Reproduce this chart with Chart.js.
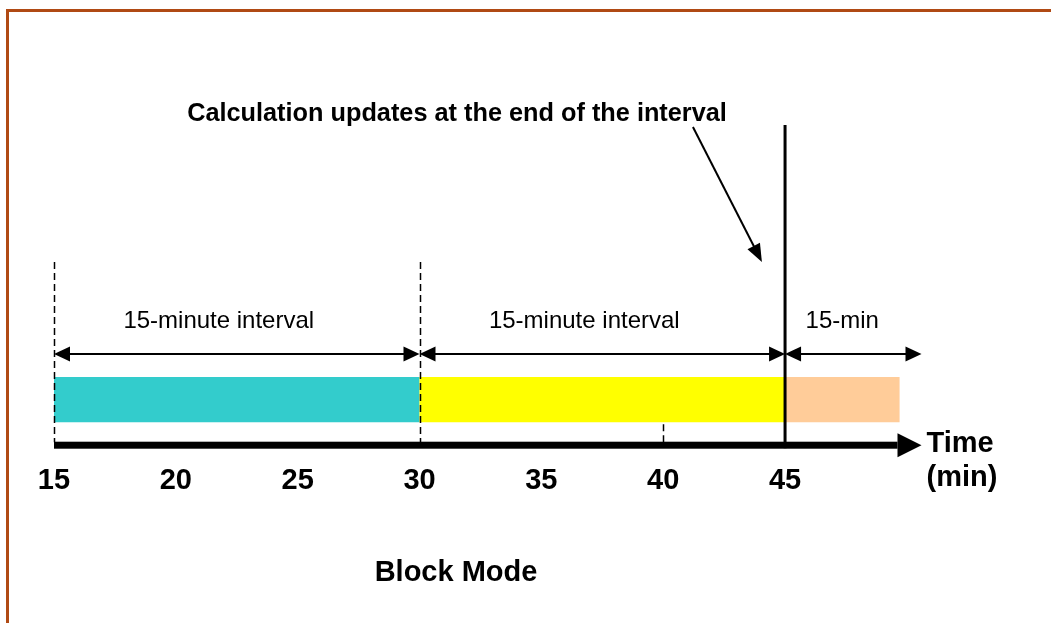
<!DOCTYPE html>
<html>
<head>
<meta charset="utf-8">
<script src="https://cdn.jsdelivr.net/npm/chart.js@4.4.1/dist/chart.umd.min.js"></script>
<style>
html, body { margin: 0; padding: 0; background: #fff; overflow: hidden; }
#wrap { position: relative; width: 1051px; height: 623px; }
#frame {
  position: absolute; left: 6px; top: 9px; width: 1100px; height: 700px;
  border-top: 3px solid #b04a14; border-left: 3px solid #b04a14;
  box-sizing: border-box; pointer-events: none;
}
</style>
</head>
<body>
<div id="wrap">
  <canvas id="blockChart" width="1051" height="623"></canvas>
  <div id="frame"></div>
</div>
<script>
// Block mode timeline, values in minutes
const intervalStarts = [15, 30, 45];
const intervalEnds = [30, 45, 49.7];
const intervalColors = ['#33cccc', '#ffff00', '#ffcc99'];
const intervalLabels = ['15-minute interval', '15-minute interval', '15-min'];
const spanArrowEnds = [30, 45, 50.6];
const tickValues = [15, 20, 25, 30, 35, 40, 45];
const boundaryMarks = [15, 30];
const minorMark = 40;
const updateMark = 45;

const FONT = '"Liberation Sans", Arial, sans-serif';

// little helper for filled arrow heads
function arrowHead(ctx, tipX, tipY, angle, len, half) {
  ctx.save();
  ctx.translate(tipX, tipY);
  ctx.rotate(angle);
  ctx.beginPath();
  ctx.moveTo(0, 0);
  ctx.lineTo(-len, -half);
  ctx.lineTo(-len, half);
  ctx.closePath();
  ctx.fill();
  ctx.restore();
}

const timelinePlugin = {
  id: 'timeline',
  afterDatasetsDraw(chart) {
    const { ctx, chartArea, scales: { x } } = chart;
    const bar = chart.getDatasetMeta(0).data[0];
    const barBottom = bar.y + bar.height / 2;
    const axisY = chartArea.bottom;
    const spanY = chartArea.top;
    const axisTip = x.getPixelForValue(50.6);

    ctx.save();
    ctx.strokeStyle = '#000';
    ctx.fillStyle = '#000';

    // dashed boundary lines
    ctx.lineWidth = 1.5;
    ctx.setLineDash([7, 4]);
    boundaryMarks.forEach(v => {
      const px = Math.round(x.getPixelForValue(v)) + 0.5;
      ctx.beginPath();
      ctx.moveTo(px, 262);
      ctx.lineTo(px, axisY - 3);
      ctx.stroke();
    });
    const mx = Math.round(x.getPixelForValue(minorMark)) + 0.5;
    ctx.beginPath();
    ctx.moveTo(mx, barBottom + 2);
    ctx.lineTo(mx, axisY - 3);
    ctx.stroke();
    ctx.setLineDash([]);

    // time axis with arrow
    const x0 = x.getPixelForValue(tickValues[0]);
    ctx.fillRect(x0, axisY - 3.5, axisTip - 24 - x0, 7);
    arrowHead(ctx, axisTip, axisY, 0, 24, 12);

    // update line at the end of the interval
    const ux = x.getPixelForValue(updateMark);
    ctx.fillRect(ux - 1.5, 125, 3, axisY + 3 - 125);

    // interval span arrows and labels
    ctx.lineWidth = 2;
    ctx.font = '24px ' + FONT;
    ctx.textAlign = 'center';
    ctx.textBaseline = 'alphabetic';
    intervalStarts.forEach((s, i) => {
      const a = x.getPixelForValue(s);
      const b = x.getPixelForValue(spanArrowEnds[i]);
      ctx.beginPath();
      ctx.moveTo(a + 8, spanY);
      ctx.lineTo(b - 8, spanY);
      ctx.stroke();
      arrowHead(ctx, a, spanY, Math.PI, 16, 7.5);
      arrowHead(ctx, b, spanY, 0, 16, 7.5);
      const shift = i === 2 ? 11 : 18;
      ctx.fillText(intervalLabels[i], (a + b) / 2 - shift, 328);
    });

    // callout
    ctx.font = 'bold 25.3px ' + FONT;
    ctx.fillText('Calculation updates at the end of the interval', 457, 121);
    const sx = x.getPixelForValue(41.22), sy = 127;
    const tx = x.getPixelForValue(44.05), ty = 262;
    const ang = Math.atan2(ty - sy, tx - sx);
    ctx.beginPath();
    ctx.moveTo(sx, sy);
    ctx.lineTo(tx - 14 * Math.cos(ang), ty - 14 * Math.sin(ang));
    ctx.stroke();
    arrowHead(ctx, tx, ty, ang, 18, 7);

    // axis title
    ctx.font = 'bold 29px ' + FONT;
    ctx.textAlign = 'left';
    ctx.fillText('Time', axisTip + 5, 452);
    ctx.fillText('(min)', axisTip + 5, 486);

    // caption
    ctx.textAlign = 'center';
    ctx.fillText('Block Mode', 456, 581);
    ctx.restore();
  }
};

const ctx = document.getElementById('blockChart').getContext('2d');
new Chart(ctx, {
  type: 'bar',
  data: {
    labels: ['Block'],
    datasets: [{
      data: intervalStarts.map((s, i) => ({ x: [s, intervalEnds[i]], y: 'Block' })),
      backgroundColor: intervalColors,
      borderWidth: 0,
      categoryPercentage: 1,
      barPercentage: 0.495,
      grouped: false
    }]
  },
  options: {
    indexAxis: 'y',
    responsive: false,
    animation: false,
    layout: { padding: { left: 54, right: 71, top: 354, bottom: 107 } },
    plugins: {
      legend: { display: false },
      tooltip: { enabled: false }
    },
    scales: {
      x: {
        type: 'linear',
        min: 15,
        max: 53,
        grid: { display: false, drawTicks: false },
        border: { display: false },
        afterBuildTicks: s => { s.ticks = tickValues.map(v => ({ value: v })); },
        ticks: {
          padding: 18,
          color: '#000',
          autoSkip: false,
          maxRotation: 0,
          font: { family: FONT, size: 29, weight: 'bold' }
        }
      },
      y: { display: false }
    }
  },
  plugins: [timelinePlugin]
});
</script>
</body>
</html>
